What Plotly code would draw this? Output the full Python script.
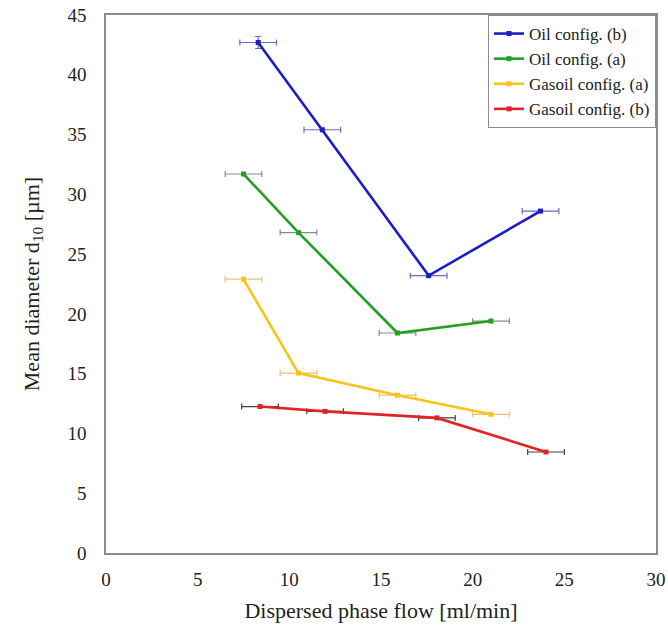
import plotly.graph_objects as go

# Data
oil_b_x = [8.3, 11.8, 17.6, 23.7]
oil_b_y = [42.7, 35.4, 23.2, 28.6]
oil_b_xerr = [1.0, 1.0, 1.0, 1.0]
oil_b_yerr = [0.5, 0.0, 0.0, 0.0]

oil_a_x = [7.5, 10.5, 15.9, 21.0]
oil_a_y = [31.7, 26.8, 18.4, 19.4]
oil_a_xerr = [1.0, 1.0, 1.0, 1.0]

gas_a_x = [7.5, 10.5, 15.9, 21.0]
gas_a_y = [22.9, 15.05, 13.2, 11.6]
gas_a_xerr = [1.0, 1.0, 1.0, 1.0]

gas_b_x = [8.4, 11.95, 18.05, 24.0]
gas_b_y = [12.25, 11.85, 11.3, 8.45]
gas_b_xerr = [1.0, 1.0, 1.0, 1.0]

series_names = ["Oil config. (b)", "Oil config. (a)", "Gasoil config. (a)", "Gasoil config. (b)"]
x_ticks = [0, 5, 10, 15, 20, 25, 30]
y_ticks = [0, 5, 10, 15, 20, 25, 30, 35, 40, 45]

FONT = "Liberation Serif, Times New Roman, serif"

fig = go.Figure()

def add(name, x, y, xerr, color, ecolor, yerr=None):
    tr = dict(
        x=x, y=y, name=name, mode="lines+markers",
        line=dict(color=color, width=2.6),
        marker=dict(color=color, size=5, symbol="square"),
        error_x=dict(type="data", array=xerr, visible=True, color=ecolor, thickness=1.2, width=3),
    )
    if yerr is not None:
        tr["error_y"] = dict(type="data", array=yerr, visible=True, color=ecolor, thickness=1.2, width=3)
    fig.add_trace(go.Scatter(**tr))

add(series_names[0], oil_b_x, oil_b_y, oil_b_xerr, "#1c1cc8", "#6a6ac0", oil_b_yerr)
add(series_names[1], oil_a_x, oil_a_y, oil_a_xerr, "#22a022", "#8a8a8a")
add(series_names[2], gas_a_x, gas_a_y, gas_a_xerr, "#f5c518", "#f0c070")
add(series_names[3], gas_b_x, gas_b_y, gas_b_xerr, "#e02424", "#404040")

axis_common = dict(
    showgrid=False, zeroline=False, showline=True, mirror=True,
    linecolor="#8c8c8c", linewidth=1.5, ticks="", automargin=False,
    ticklabeloverflow="allow",
    tickfont=dict(family=FONT, size=19, color="#222"),
)

fig.update_layout(
    width=668, height=640,
    margin=dict(l=106, r=12, t=15, b=87),
    paper_bgcolor="white", plot_bgcolor="white",
    font=dict(family=FONT, color="#222"),
    xaxis=dict(range=[0, 30], tickvals=x_ticks, ticklabelstandoff=8, **axis_common,
               title=dict(text="Dispersed phase flow [ml/min]", font=dict(family=FONT, size=22), standoff=14)),
    yaxis=dict(range=[0, 45], tickvals=y_ticks, ticklabelstandoff=14, **axis_common,
               title=dict(text="Mean diameter d<sub>10</sub> [µm]", font=dict(family=FONT, size=22), standoff=22)),
    legend=dict(
        x=1.0, xanchor="right", y=1.0, yanchor="top",
        bgcolor="white", bordercolor="#8c8c8c", borderwidth=1,
        font=dict(family=FONT, size=17, color="#222"),
        itemwidth=30, tracegroupgap=2,
    ),
    showlegend=True,
)

# remove the browser's default 8px body margin so the figure fills the window
fig.write_html("out.html", config={"displayModeBar": False},
               post_script="document.body.style.margin='0px';")
